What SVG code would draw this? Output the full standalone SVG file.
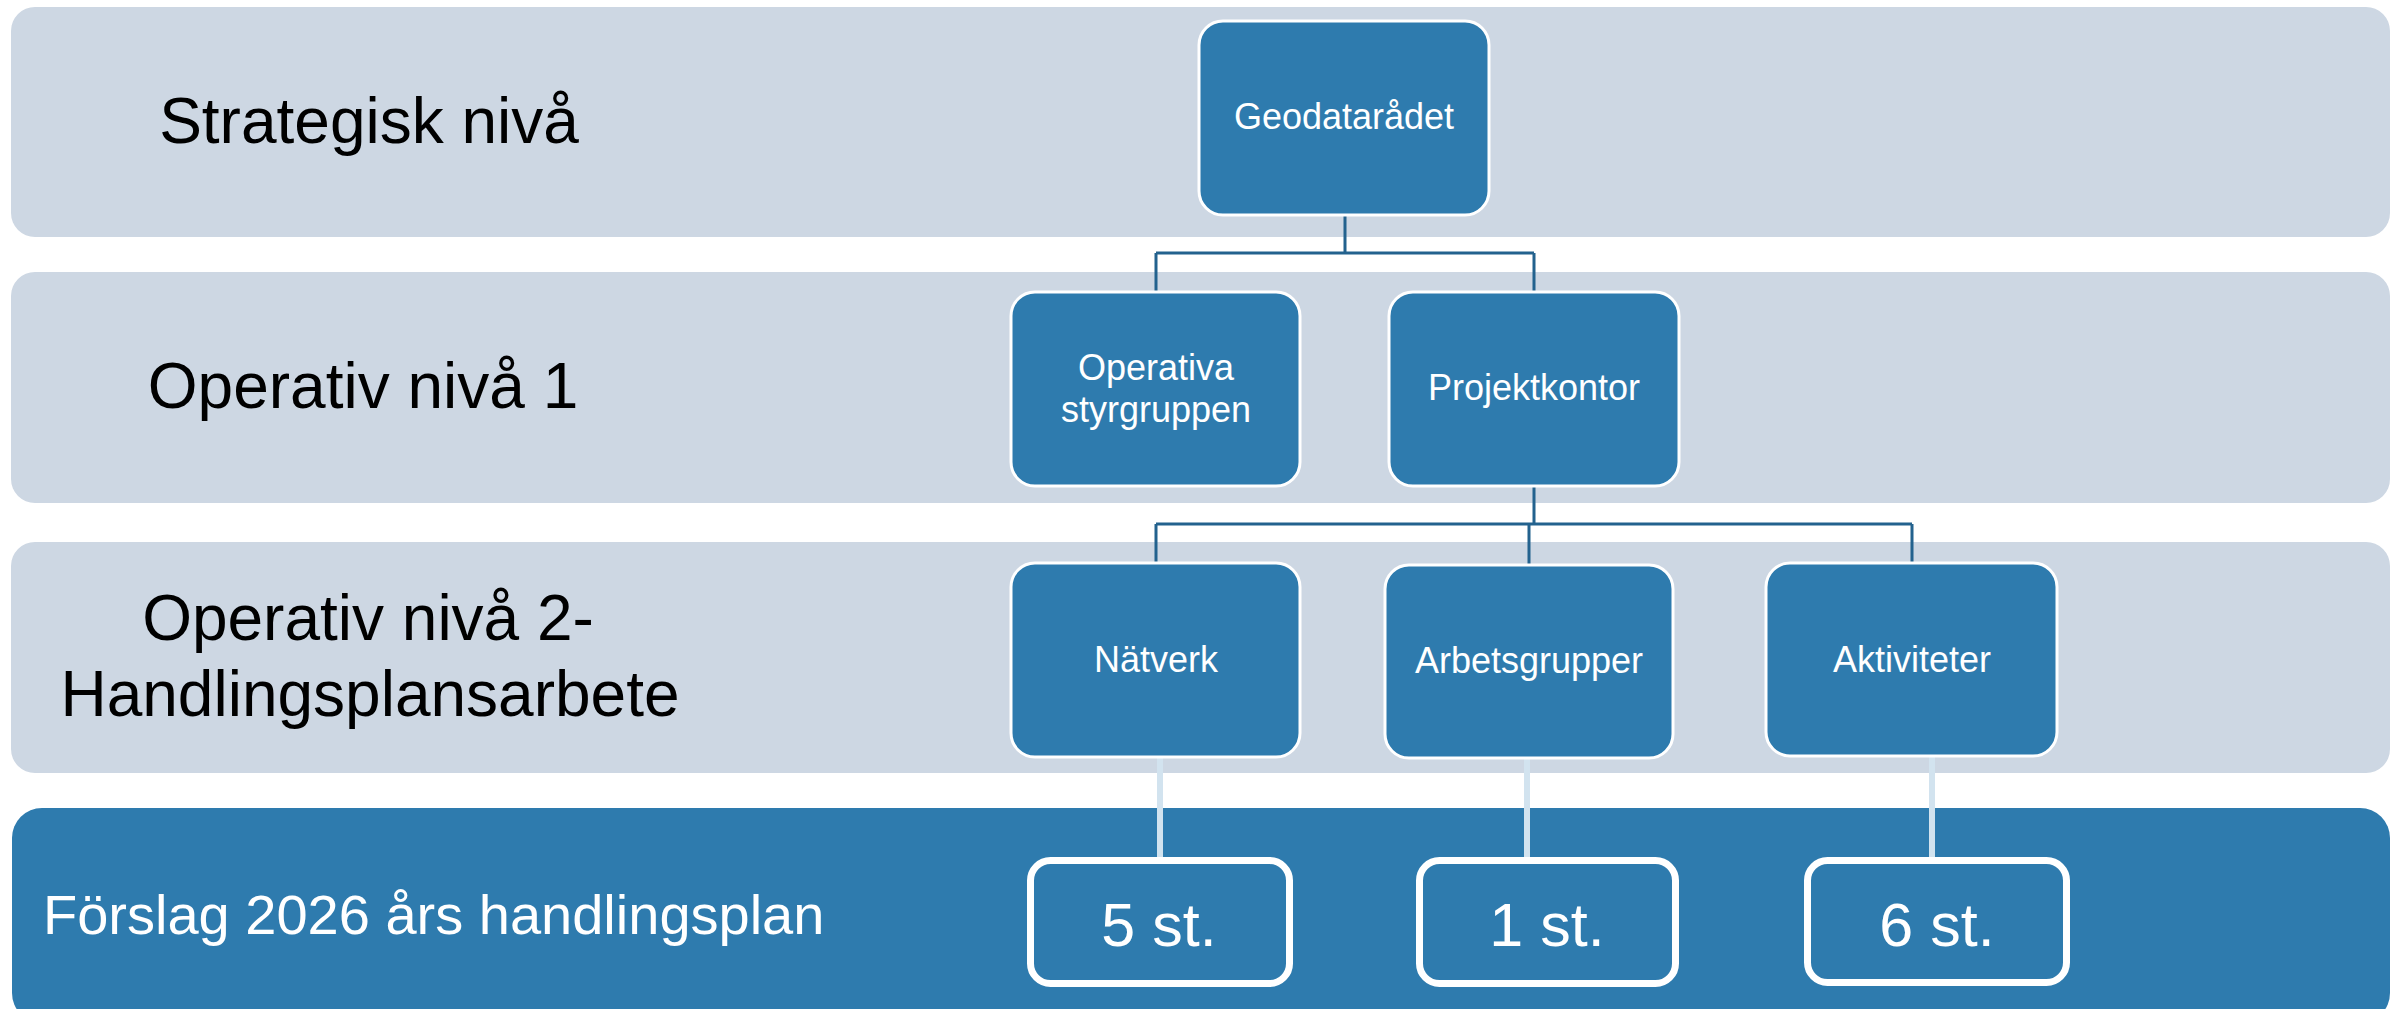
<svg xmlns="http://www.w3.org/2000/svg" width="2400" height="1009" viewBox="0 0 2400 1009">
<style>
.band{fill:#CDD7E3}
.bandDark{fill:#2E7BAE}
.node{fill:#2E7BAE;stroke:#FFFFFF;stroke-width:3}
.count{fill:#2E7BAE;stroke:#FFFFFF;stroke-width:7}
.lbl{font-family:"Liberation Sans",Arial,sans-serif;font-size:64px;fill:#000000;text-anchor:middle}
.nt{font-family:"Liberation Sans",Arial,sans-serif;font-size:36px;fill:#FFFFFF;text-anchor:middle}
.ct{font-family:"Liberation Sans",Arial,sans-serif;font-size:61px;fill:#FFFFFF;text-anchor:middle}
.conn{fill:none;stroke:#23628E;stroke-width:3}
.conn2{fill:none;stroke:#D2E3EF;stroke-width:6}
</style>
<rect width="2400" height="1009" fill="#FFFFFF"/>
<g id="bands">
<rect class="band" x="11" y="7" width="2379" height="230" rx="24"/>
<rect class="band" x="11" y="272" width="2379" height="231" rx="24"/>
<rect class="band" x="11" y="542" width="2379" height="231" rx="24"/>
<rect class="bandDark" x="12" y="808" width="2378" height="215" rx="30"/>
</g>
<g id="labels">
<text class="lbl" x="369" y="143">Strategisk nivå</text>
<text class="lbl" x="363" y="408">Operativ nivå 1</text>
<text class="lbl" x="368" y="640">Operativ nivå 2-</text>
<text class="lbl" x="370" y="716">Handlingsplansarbete</text>
<text x="43" y="934" style="font-family:'Liberation Sans',Arial,sans-serif;font-size:56px;fill:#FFFFFF">Förslag 2026 års handlingsplan</text>
</g>
<g id="connectors">
<path class="conn" d="M1345 215 V253 M1156 253 H1534 M1156 253 V292 M1534 253 V292"/>
<path class="conn" d="M1534 486 V524 M1156 524 H1912 M1156 524 V563 M1529 524 V565 M1912 524 V563"/>
<path class="conn2" d="M1160 757 V861 M1527 758 V861 M1932 756 V861"/>
</g>
<g id="geodataradet">
<rect class="node" x="1199" y="21" width="290" height="194" rx="24"/>
<text class="nt" x="1344" y="129">Geodatarådet</text>
</g>
<g id="operativa-styrgruppen">
<rect class="node" x="1011" y="292" width="289" height="194" rx="24"/>
<text class="nt" x="1156" y="380">Operativa</text>
<text class="nt" x="1156" y="422">styrgruppen</text>
</g>
<g id="projektkontor">
<rect class="node" x="1389" y="292" width="290" height="194" rx="24"/>
<text class="nt" x="1534" y="400">Projektkontor</text>
</g>
<g id="natverk">
<rect class="node" x="1011" y="563" width="289" height="194" rx="24"/>
<text class="nt" x="1156" y="672">Nätverk</text>
</g>
<g id="arbetsgrupper">
<rect class="node" x="1385" y="565" width="288" height="193" rx="24"/>
<text class="nt" x="1529" y="673">Arbetsgrupper</text>
</g>
<g id="aktiviteter">
<rect class="node" x="1766" y="563" width="291" height="193" rx="24"/>
<text class="nt" x="1912" y="672">Aktiviteter</text>
</g>
<g id="count-5">
<rect class="count" x="1030.5" y="860.5" width="259" height="123" rx="20"/>
<text class="ct" x="1159" y="946">5 st.</text>
</g>
<g id="count-1">
<rect class="count" x="1419.5" y="860.5" width="256" height="123" rx="20"/>
<text class="ct" x="1547" y="946">1 st.</text>
</g>
<g id="count-6">
<rect class="count" x="1807.5" y="860.5" width="259" height="122" rx="20"/>
<text class="ct" x="1937" y="946">6 st.</text>
</g>
</svg>
